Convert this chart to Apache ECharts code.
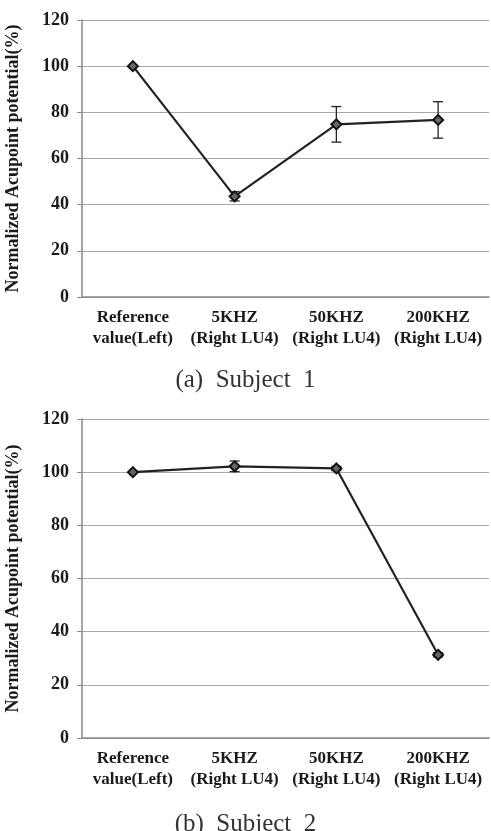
<!DOCTYPE html>
<html>
<head>
<meta charset="utf-8">
<script src="https://cdn.jsdelivr.net/npm/echarts@6/dist/echarts.min.js"></script>
<style>
  html, body { margin: 0; padding: 0; background: #fff; }
  #chart { width: 491px; height: 831px; }
</style>
</head>
<body>
<div id="chart"></div>
<script>
// categories on x axis
var categories = ['Reference\nvalue(Left)', '5KHZ\n(Right LU4)', '50KHZ\n(Right LU4)', '200KHZ\n(Right LU4)']
// subject 1
var subject1 = [100, 43.6, 74.8, 76.7]
var subject1Err = [0, 2, 7.7, 7.9]
// subject 2
var subject2 = [100, 102.2, 101.4, 31.3]
var subject2Err = [0, 2, 0.8, 0.8]
var captions = ['(a)  Subject  1', '(b)  Subject  2']

var serif = '"Liberation Serif", "DejaVu Serif", serif'

function errData(vals, errs) {
  return vals.map(function (v, i) { return [i, v - errs[i], v + errs[i]] })
}

function errRender(params, api) {
  var lo = api.coord([api.value(0), api.value(1)])
  var hi = api.coord([api.value(0), api.value(2)])
  if (hi[1] === lo[1]) return
  var w = 5
  var style = { stroke: '#222', lineWidth: 1.3 }
  return {
    type: 'group',
    children: [
      { type: 'line', shape: { x1: hi[0], y1: hi[1], x2: lo[0], y2: lo[1] }, style: style },
      { type: 'line', shape: { x1: hi[0] - w, y1: hi[1], x2: hi[0] + w, y2: hi[1] }, style: style },
      { type: 'line', shape: { x1: lo[0] - w, y1: lo[1], x2: lo[0] + w, y2: lo[1] }, style: style }
    ]
  }
}

function xAxis(idx) {
  return {
    type: 'category',
    gridIndex: idx,
    data: categories,
    boundaryGap: true,
    axisLine: { lineStyle: { color: '#888', width: 1.5 } },
    axisTick: { show: false },
    axisLabel: {
      interval: 0,
      margin: 10,
      fontFamily: serif,
      fontWeight: 'bold',
      fontSize: 17,
      lineHeight: 21,
      color: '#1a1a1a'
    }
  }
}

function yAxis(idx) {
  return {
    type: 'value',
    gridIndex: idx,
    min: 0,
    max: 120,
    interval: 20,
    name: 'Normalized Acupoint potential(%)',
    nameLocation: 'middle',
    nameGap: 60,
    nameTextStyle: { fontFamily: serif, fontWeight: 'bold', fontSize: 18, color: '#1a1a1a' },
    axisLine: { show: true, lineStyle: { color: '#888', width: 1.5 } },
    axisTick: { show: true, length: 5, lineStyle: { color: '#888' } },
    axisLabel: { margin: 13, fontFamily: serif, fontWeight: 'bold', fontSize: 18, color: '#1a1a1a' },
    splitLine: { lineStyle: { color: '#aaa', width: 1 } }
  }
}

function lineSeries(idx, vals) {
  return {
    type: 'line',
    xAxisIndex: idx,
    yAxisIndex: idx,
    data: vals,
    symbol: 'diamond',
    symbolSize: 10,
    z: 3,
    itemStyle: { color: '#666', borderColor: '#111', borderWidth: 2 },
    lineStyle: { color: '#222', width: 2.2 }
  }
}

function errSeries(idx, vals, errs) {
  return {
    type: 'custom',
    xAxisIndex: idx,
    yAxisIndex: idx,
    data: errData(vals, errs),
    renderItem: errRender,
    z: 2
  }
}

var chart = echarts.init(document.getElementById('chart'))
chart.setOption({
  animation: false,
  backgroundColor: '#fff',
  title: [
    { text: captions[0], left: 'center', top: 363, textStyle: { fontFamily: serif, fontWeight: 'normal', fontSize: 25, color: '#333' } },
    { text: captions[1], left: 'center', top: 807, textStyle: { fontFamily: serif, fontWeight: 'normal', fontSize: 25, color: '#333' } }
  ],
  grid: [
    { left: 82, top: 20, width: 407, height: 277, outerBoundsMode: 'none', containLabel: false },
    { left: 82, top: 419, width: 407, height: 319, outerBoundsMode: 'none', containLabel: false }
  ],
  xAxis: [xAxis(0), xAxis(1)],
  yAxis: [yAxis(0), yAxis(1)],
  series: [
    lineSeries(0, subject1),
    errSeries(0, subject1, subject1Err),
    lineSeries(1, subject2),
    errSeries(1, subject2, subject2Err)
  ]
})
</script>
</body>
</html>
